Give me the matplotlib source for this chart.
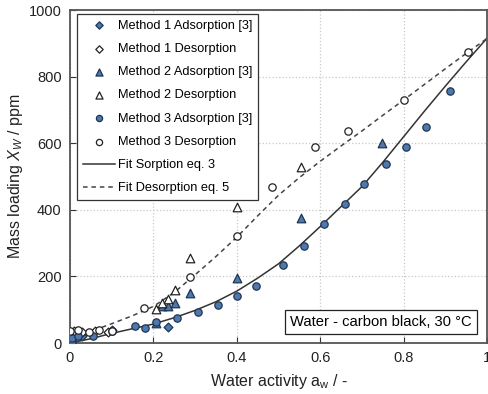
import numpy as np
import matplotlib.pyplot as plt

plt.rcParams["font.family"] = ["Liberation Sans", "DejaVu Sans"]
plt.rcParams["mathtext.fontset"] = "custom"
plt.rcParams["mathtext.rm"] = "Liberation Sans"
plt.rcParams["mathtext.it"] = "Liberation Sans:italic"

# Method 1 (diamonds)
m1_ads_x = [0.005, 0.03, 0.1, 0.235]
m1_ads_y = [12, 20, 38, 48]
m1_des_x = [0.01, 0.03, 0.06, 0.09]
m1_des_y = [35, 32, 36, 33]

# Method 2 (triangles)
m2_ads_x = [0.005, 0.205, 0.22, 0.236, 0.251, 0.288, 0.40, 0.553, 0.749]
m2_ads_y = [8, 60, 112, 110, 120, 150, 195, 375, 600]
m2_des_x = [0.205, 0.22, 0.236, 0.251, 0.288, 0.40, 0.553]
m2_des_y = [102, 120, 132, 160, 256, 408, 530]

# Method 3 (circles)
m3_ads_x = [0.005, 0.02, 0.055, 0.1, 0.157, 0.18, 0.207, 0.257, 0.306, 0.354,
            0.40, 0.445, 0.51, 0.56, 0.61, 0.659, 0.704, 0.758, 0.806, 0.854, 0.911]
m3_ads_y = [15, 20, 22, 35, 51, 45, 62, 75, 93, 114,
            140, 171, 234, 291, 357, 418, 477, 537, 588, 649, 757]
m3_des_x = [0.0, 0.02, 0.045, 0.07, 0.1, 0.177, 0.288, 0.40, 0.483, 0.588,
            0.667, 0.80, 0.955]
m3_des_y = [35, 38, 32, 38, 35, 105, 198, 322, 470, 589, 637, 730, 874]

# fit curves
fit_x = [0.0, 0.05, 0.1, 0.15, 0.2, 0.25, 0.3, 0.35, 0.4, 0.45, 0.5,
         0.55, 0.6, 0.65, 0.7, 0.75, 0.8, 0.85, 0.9, 0.95, 1.0]
fit_sorp = [0, 13, 29, 43, 57, 76, 98, 124, 156, 195, 238,
            292, 350, 410, 470, 543, 620, 697, 772, 845, 916]
fit_des = [15, 35, 58, 82, 110, 152, 205, 260, 318, 382, 444,
           497, 546, 592, 637, 684, 730, 777, 824, 870, 915]

blue = "#4f78ad"
edge = "#1f3550"

fig = plt.figure(figsize=(4.88, 3.94), dpi=100)
ax = fig.add_axes([0.1434, 0.1294, 0.855, 0.8452])

ax.grid(True, color="#c8c8c8", linestyle=":", linewidth=0.9)
ax.set_axisbelow(True)

ax.plot(fit_x, fit_sorp, color="#333333", lw=1.1, zorder=2)
ax.plot(fit_x, fit_des, color="#444444", lw=1.1, ls=(0, (3, 2.5)), zorder=2)

ms = 28
lw = 0.9
ax.scatter(m1_ads_x, m1_ads_y, marker="D", s=20, facecolor=blue, edgecolor=edge, linewidth=lw, zorder=3)
ax.scatter(m1_des_x, m1_des_y, marker="D", s=20, facecolor="white", edgecolor="#222222", linewidth=lw, zorder=3)
ax.scatter(m2_ads_x, m2_ads_y, marker="^", s=38, facecolor=blue, edgecolor=edge, linewidth=lw, zorder=3)
ax.scatter(m2_des_x, m2_des_y, marker="^", s=38, facecolor="white", edgecolor="#222222", linewidth=lw, zorder=3)
ax.scatter(m3_ads_x, m3_ads_y, marker="o", s=ms, facecolor=blue, edgecolor=edge, linewidth=lw, zorder=3)
ax.scatter(m3_des_x, m3_des_y, marker="o", s=ms, facecolor="white", edgecolor="#222222", linewidth=lw, zorder=3)

# legend handles
h = []
h.append(ax.scatter([], [], marker="D", s=14, facecolor=blue, edgecolor=edge, linewidth=lw, label="Method 1 Adsorption [3]"))
h.append(ax.scatter([], [], marker="D", s=14, facecolor="white", edgecolor="#222222", linewidth=lw, label="Method 1 Desorption"))
h.append(ax.scatter([], [], marker="^", s=26, facecolor=blue, edgecolor=edge, linewidth=lw, label="Method 2 Adsorption [3]"))
h.append(ax.scatter([], [], marker="^", s=26, facecolor="white", edgecolor="#222222", linewidth=lw, label="Method 2 Desorption"))
h.append(ax.scatter([], [], marker="o", s=20, facecolor=blue, edgecolor=edge, linewidth=lw, label="Method 3 Adsorption [3]"))
h.append(ax.scatter([], [], marker="o", s=20, facecolor="white", edgecolor="#222222", linewidth=lw, label="Method 3 Desorption"))
h += ax.plot([], [], color="#333333", lw=1.1, label="Fit Sorption eq. 3")
h += ax.plot([], [], color="#444444", lw=1.1, ls=(0, (3, 2.5)), label="Fit Desorption eq. 5")

leg = ax.legend(handles=h, loc="upper left", bbox_to_anchor=(0.017, 0.988), fontsize=9.2,
                frameon=True, fancybox=False, edgecolor="#333333", framealpha=1,
                labelspacing=0.88, handlelength=2.5, handletextpad=0.25,
                borderpad=0.45, borderaxespad=0)
leg.get_frame().set_linewidth(0.9)

ax.text(0.962, 0.042, "Water - carbon black, 30 °C", transform=ax.transAxes,
        ha="right", va="bottom", fontsize=10.6,
        bbox=dict(boxstyle="square,pad=0.35", facecolor="white", edgecolor="#222222", linewidth=0.9))

ax.set_xlim(0, 1)
ax.set_ylim(0, 1000)
ax.set_xticks([0, 0.2, 0.4, 0.6, 0.8, 1])
ax.set_xticklabels(["0", "0.2", "0.4", "0.6", "0.8", "1"])
ax.set_yticks([0, 200, 400, 600, 800, 1000])
ax.tick_params(direction="in", labelsize=10.5, colors="#333333", labelcolor="#222222", length=4, pad=6)
for s in ax.spines.values():
    s.set_color("#555555")
    s.set_linewidth(1.3)

ax.set_xlabel(r"Water activity $\mathrm{a}_\mathrm{w}$ / -", fontsize=11.5, color="#222222", labelpad=5)
ax.set_ylabel(r"Mass loading $X_W$ / ppm", fontsize=11.5, color="#222222", labelpad=3)

fig.savefig("out.png", dpi=100)
